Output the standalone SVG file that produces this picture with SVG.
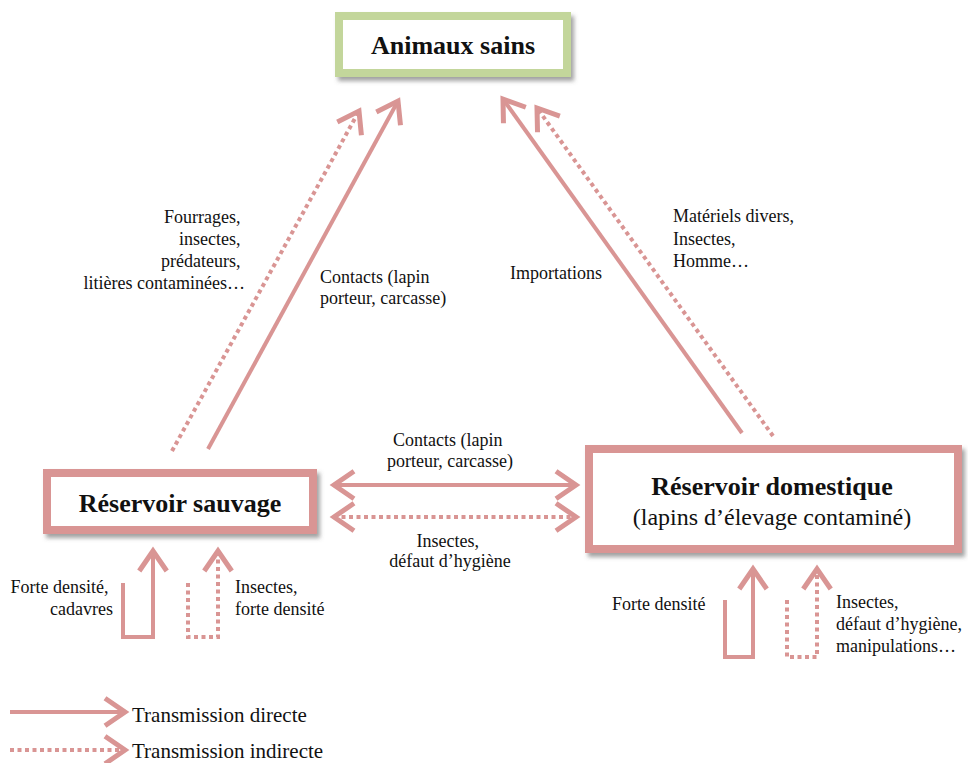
<svg xmlns="http://www.w3.org/2000/svg" width="968" height="763" viewBox="0 0 968 763">
<defs>
<style>
text{font-family:'Liberation Serif','DejaVu Serif',serif;fill:#111}
.lbl{font-size:18px}
.title{font-size:26px;font-weight:bold}
.leg{font-size:21px}
.box{fill:#fff;stroke-width:8;filter:url(#sh)}
.pink{stroke:#d99594}
.green{stroke:#c3d69b}
.c{fill:none;stroke:#d99594;stroke-width:4}
.dir{marker-end:url(#ah)}
.ind{stroke-dasharray:4 3.5;marker-end:url(#ah)}
.both{marker-start:url(#ah)}
</style>
<marker id="ah" markerUnits="userSpaceOnUse" markerWidth="40" markerHeight="40" refX="0" refY="0" viewBox="-22 -16 26 32" orient="auto-start-reverse" overflow="visible">
<path d="M-16,-11 L0,0 L-16,11" fill="none" stroke="#d99594" stroke-width="4"/>
</marker>
<filter id="sh" x="-10%" y="-20%" width="130%" height="160%">
<feDropShadow dx="3" dy="4" stdDeviation="2" flood-color="#555" flood-opacity="0.55"/>
</filter>
</defs>

<g id="connectors">
<path class="c ind" d="M172,451 L359,111"/>
<path class="c dir" d="M208,449 L398,101"/>
<path class="c dir" d="M742,433 L503,99"/>
<path class="c ind" d="M773,436 L537,108"/>
<path class="c dir both" d="M334,485 L576,485"/>
<path class="c ind both" d="M334,517 L576,517"/>
<path class="c dir" d="M123,583 L123,637 L153,637 L153,551"/>
<path class="c ind" d="M188,583 L188,637 L218,637 L218,551"/>
<path class="c dir" d="M725,600 L725,657 L753,657 L753,569"/>
<path class="c ind" d="M787,600 L787,657 L817,657 L817,569"/>
</g>

<g id="node-animaux-sains">
<rect class="box green" x="339" y="16" width="228" height="57"/>
<text class="title" x="453" y="54" text-anchor="middle" font-family="Liberation Serif, serif">Animaux sains</text>
</g>

<g id="node-reservoir-sauvage">
<rect class="box pink" x="47" y="473" width="266" height="57"/>
<text class="title" x="180" y="512" text-anchor="middle">Réservoir sauvage</text>
</g>

<g id="node-reservoir-domestique">
<rect class="box pink" x="589" y="449" width="369" height="100"/>
<text class="title" x="772" y="495" text-anchor="middle">Réservoir domestique</text>
<text x="772" y="525" text-anchor="middle" style="font-size:24px">(lapins d’élevage contaminé)</text>
</g>

<g id="labels">
<text class="lbl" text-anchor="end">
<tspan x="245" y="223">Fourrages,</tspan>
<tspan x="245" y="245">insectes,</tspan>
<tspan x="245" y="267">prédateurs,</tspan>
<tspan x="245" y="289">litières contaminées…</tspan>
</text>
<text class="lbl">
<tspan x="320" y="283">Contacts (lapin</tspan>
<tspan x="320" y="304">porteur, carcasse)</tspan>
</text>
<text class="lbl" x="510" y="279">Importations</text>
<text class="lbl">
<tspan x="673" y="222">Matériels divers,</tspan>
<tspan x="673" y="245">Insectes,</tspan>
<tspan x="673" y="267">Homme…</tspan>
</text>
<text class="lbl" text-anchor="middle">
<tspan x="450" y="446">Contacts (lapin</tspan>
<tspan x="450" y="467">porteur, carcasse)</tspan>
</text>
<text class="lbl" text-anchor="middle">
<tspan x="450" y="547">Insectes,</tspan>
<tspan x="450" y="567">défaut d’hygiène</tspan>
</text>
<text class="lbl" text-anchor="end">
<tspan x="113" y="593">Forte densité,</tspan>
<tspan x="113" y="615">cadavres</tspan>
</text>
<text class="lbl">
<tspan x="235" y="593">Insectes,</tspan>
<tspan x="235" y="615">forte densité</tspan>
</text>
<text class="lbl" x="612" y="610">Forte densité</text>
<text class="lbl">
<tspan x="836" y="608">Insectes,</tspan>
<tspan x="836" y="630">défaut d’hygiène,</tspan>
<tspan x="836" y="652">manipulations…</tspan>
</text>
</g>

<g id="legend">
<path class="c dir" d="M10,712 L125,712"/>
<path class="c ind" d="M10,750 L125,750"/>
<text class="leg" x="132" y="722">Transmission directe</text>
<text class="leg" x="132" y="758">Transmission indirecte</text>
</g>
</svg>
